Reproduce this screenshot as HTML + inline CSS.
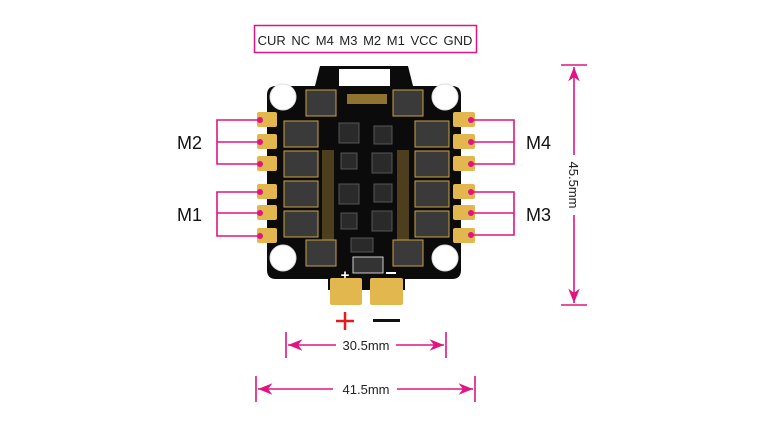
<!DOCTYPE html>
<html><head><style>
html,body{margin:0;padding:0;background:#fff;}
svg{display:block;font-family:"Liberation Sans","DejaVu Sans",sans-serif;}
</style></head><body>
<svg width="768" height="429" viewBox="0 0 768 429" xmlns="http://www.w3.org/2000/svg">
<defs>
<marker id="ar" viewBox="0 0 10 10" refX="10" refY="5" markerWidth="9" markerHeight="9" orient="auto-start-reverse"><path d="M0,1 L10,5 L0,9 L3,5 z" fill="#e0157f"/></marker>
</defs>
<rect x="254.5" y="25.5" width="222" height="27" fill="#fff" stroke="#e0157f" stroke-width="1.5"/>
<text x="365" y="45" font-size="13" text-anchor="middle" fill="#222" word-spacing="2">CUR NC M4 M3 M2 M1 VCC GND</text>
<!-- board -->
<path d="M320,66 H408 L413,86 H452 Q461,86 461,95 V270 Q461,279 452,279 H405 V290 H328 V279 H276 Q267,279 267,270 V95 Q267,86 276,86 H315 Z" fill="#0b0b0b"/>
<rect x="339" y="69" width="51" height="17" fill="#fff"/>
<g fill="#fff" stroke="#ddd" stroke-width="1">
<circle cx="283" cy="97" r="13"/><circle cx="445" cy="97" r="13"/>
<circle cx="283" cy="258" r="13"/><circle cx="445" cy="258" r="13"/>
</g>
<g fill="#3a3a3a" stroke="#c9a040" stroke-width="1">
<rect x="306" y="90" width="30" height="26"/><rect x="393" y="90" width="30" height="26"/>
<rect x="284" y="121" width="34" height="26"/><rect x="284" y="151" width="34" height="26"/><rect x="284" y="181" width="34" height="26"/><rect x="284" y="211" width="34" height="26"/>
<rect x="415" y="121" width="34" height="26"/><rect x="415" y="151" width="34" height="26"/><rect x="415" y="181" width="34" height="26"/><rect x="415" y="211" width="34" height="26"/>
<rect x="306" y="240" width="30" height="26"/><rect x="393" y="240" width="30" height="26"/>
</g>
<g fill="#2a2a2a" stroke="#555">
<rect x="339" y="123" width="20" height="20"/><rect x="374" y="126" width="18" height="18"/>
<rect x="341" y="153" width="16" height="16"/><rect x="372" y="153" width="20" height="20"/>
<rect x="339" y="184" width="20" height="20"/><rect x="374" y="184" width="18" height="18"/>
<rect x="341" y="213" width="16" height="16"/><rect x="372" y="211" width="20" height="20"/>
<rect x="351" y="238" width="22" height="14"/>
</g>
<rect x="353" y="257" width="30" height="16" fill="#333" stroke="#ccc"/>
<g fill="#c9a040">
<rect x="347" y="94" width="40" height="10" opacity="0.7"/>
<rect x="322" y="150" width="12" height="90" opacity="0.35"/>
<rect x="397" y="150" width="12" height="90" opacity="0.35"/>
</g>
<text x="345" y="280" font-size="15" fill="#fff" font-weight="bold" text-anchor="middle">+</text>
<rect x="386" y="272" width="10" height="2" fill="#fff"/>
<rect x="330" y="278" width="32" height="27" rx="2" fill="#e2b74e"/>
<rect x="370" y="278" width="33" height="27" rx="2" fill="#e2b74e"/>
<g fill="#e2b74e">
<rect x="257" y="112" width="20" height="15" rx="2"/><rect x="257" y="134" width="20" height="15" rx="2"/><rect x="257" y="156" width="20" height="15" rx="2"/>
<rect x="257" y="184" width="20" height="15" rx="2"/><rect x="257" y="205" width="20" height="15" rx="2"/><rect x="257" y="228" width="20" height="15" rx="2"/>
<rect x="453" y="112" width="22" height="15" rx="2"/><rect x="453" y="134" width="22" height="15" rx="2"/><rect x="453" y="156" width="22" height="15" rx="2"/>
<rect x="453" y="184" width="22" height="15" rx="2"/><rect x="453" y="205" width="22" height="15" rx="2"/><rect x="453" y="228" width="22" height="15" rx="2"/>
</g>
<g stroke="#e0157f" stroke-width="1.6" fill="none">
<path d="M260,120 H217 V164 H260 M217,142 H260"/>
<path d="M260,192 H217 V236 H260 M217,213 H260"/>
<path d="M471,120 H514 V164 H471 M514,142 H471"/>
<path d="M471,192 H514 V235 H471 M514,213 H471"/>
</g>
<g fill="#e0157f">
<circle cx="260" cy="120" r="3"/><circle cx="260" cy="142" r="3"/><circle cx="260" cy="164" r="3"/>
<circle cx="260" cy="192" r="3"/><circle cx="260" cy="213" r="3"/><circle cx="260" cy="236" r="3"/>
<circle cx="471" cy="120" r="3"/><circle cx="471" cy="142" r="3"/><circle cx="471" cy="164" r="3"/>
<circle cx="471" cy="192" r="3"/><circle cx="471" cy="213" r="3"/><circle cx="471" cy="235" r="3"/>
</g>
<g font-size="18" fill="#111">
<text x="177" y="149">M2</text><text x="177" y="221">M1</text>
<text x="526" y="149">M4</text><text x="526" y="221">M3</text>
</g>
<path d="M336,321 H354 M345,312 V330" stroke="#e31b1b" stroke-width="2.5"/>
<rect x="373" y="319" width="27" height="3" fill="#111"/>
<g stroke="#e0157f" stroke-width="1.6">
<path d="M561,65 H587 M561,305 H587"/>
</g>
<path d="M574,155 V67" stroke="#e0157f" stroke-width="1.6" marker-end="url(#ar)"/>
<path d="M574,215 V303" stroke="#e0157f" stroke-width="1.6" marker-end="url(#ar)"/>
<text transform="translate(569,185) rotate(90)" font-size="13" text-anchor="middle" fill="#222">45.5mm</text>
<g stroke="#e0157f" stroke-width="1.6">
<path d="M286,332 V358 M446,332 V358"/>
<path d="M336,345 H288" marker-end="url(#ar)"/>
<path d="M396,345 H444" marker-end="url(#ar)"/>
<path d="M256,376 V402 M475,376 V402"/>
<path d="M333,389 H258" marker-end="url(#ar)"/>
<path d="M397,389 H473" marker-end="url(#ar)"/>
</g>
<text x="366" y="350" font-size="13" text-anchor="middle" fill="#222">30.5mm</text>
<text x="366" y="394" font-size="13" text-anchor="middle" fill="#222">41.5mm</text>
</svg>
</body></html>
